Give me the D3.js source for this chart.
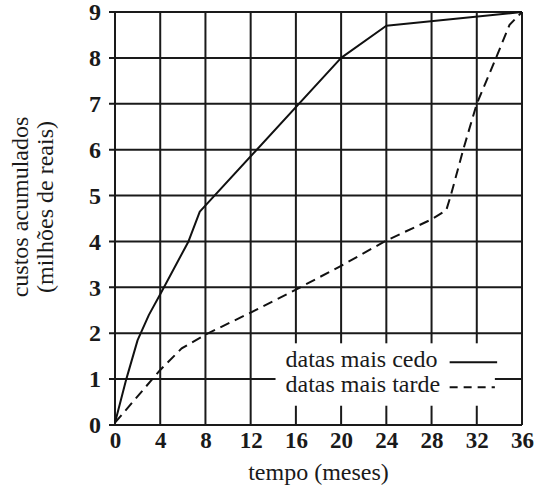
<!DOCTYPE html>
<html>
<head>
<meta charset="utf-8">
<script src="https://cdn.jsdelivr.net/npm/d3@7"></script>
<style>
  body { margin: 0; background: #fff; }
  text, tspan { font-family: "Liberation Serif", "Times New Roman", Tinos, Times !important; }
</style>
</head>
<body>
<div id="chart"></div>
<script>
// ===== dados =====
const xTicks = [0, 4, 8, 12, 16, 20, 24, 28, 32, 36];
const yTicks = [0, 1, 2, 3, 4, 5, 6, 7, 8, 9];

// datas mais cedo (linha contínua)
const mesesCedo = [0, 1, 2, 3, 4, 6.5, 7.5, 20, 24, 36];
const custosCedo = [0.05, 1, 1.85, 2.4, 2.85, 4.0, 4.65, 8, 8.7, 9];

// datas mais tarde (linha tracejada)
const mesesTarde = [0, 4, 5.9, 8, 12, 16, 20, 24, 28, 29.3, 29.7, 30.8, 32, 33.7, 34.9, 36];
const custosTarde = [0.05, 1.2, 1.67, 1.97, 2.45, 2.95, 3.47, 4.02, 4.48, 4.68, 5, 6, 7, 8, 8.72, 9];

const legendLabels = ["datas mais cedo", "datas mais tarde"];

const serif = "Liberation Serif, Times New Roman, Tinos, Times";

(function() {
  const W = 536, H = 486;
  const margin = { top: 12, right: 14, bottom: 61, left: 115 };
  const w = W - margin.left - margin.right;
  const h = H - margin.top - margin.bottom;

  const svg = d3.select("#chart").append("svg")
    .attr("width", W).attr("height", H)
    .attr("font-family", serif);

  const g = svg.append("g").attr("transform", `translate(${margin.left},${margin.top})`);

  const x = d3.scaleLinear().domain([0, 36]).range([0, w]);
  const y = d3.scaleLinear().domain([0, 9]).range([h, 0]);

  const ink = "#1a1a1a";

  // grade
  g.append("g").selectAll("line")
    .data(xTicks)
    .join("line")
    .attr("x1", d => x(d)).attr("x2", d => x(d))
    .attr("y1", 0).attr("y2", h)
    .attr("stroke", ink).attr("stroke-width", 2);

  g.append("g").selectAll("line")
    .data(yTicks)
    .join("line")
    .attr("x1", -6).attr("x2", w)
    .attr("y1", d => y(d)).attr("y2", d => y(d))
    .attr("stroke", ink).attr("stroke-width", 2);

  // eixos (só rótulos)
  const yAxis = g.append("g")
    .call(d3.axisLeft(y).tickValues(yTicks).tickSize(6).tickPadding(8).tickFormat(d3.format("d")))
    .attr("font-family", serif);
  yAxis.select(".domain").remove();
  yAxis.selectAll("line").remove();
  yAxis.selectAll("text")
    .attr("font-size", 24).attr("font-weight", "bold").attr("fill", ink);

  const xAxis = g.append("g").attr("transform", `translate(0,${h})`)
    .call(d3.axisBottom(x).tickValues(xTicks).tickSize(0).tickPadding(7).tickFormat(d3.format("d")))
    .attr("font-family", serif);
  xAxis.select(".domain").remove();
  xAxis.selectAll("text")
    .attr("font-size", 23).attr("font-weight", "bold").attr("fill", ink);

  // caixa da legenda
  const lx = x(14.2), ly = y(1.78);
  g.append("rect")
    .attr("x", lx).attr("y", ly)
    .attr("width", x(33.6) - lx).attr("height", y(0.42) - ly)
    .attr("fill", "#fff");

  // linhas
  const line = d3.line().x(d => x(d[0])).y(d => y(d[1]));

  g.append("path")
    .datum(d3.zip(mesesCedo, custosCedo))
    .attr("d", line)
    .attr("fill", "none").attr("stroke", "#111").attr("stroke-width", 2)
    .attr("stroke-linejoin", "round");

  g.append("path")
    .datum(d3.zip(mesesTarde, custosTarde))
    .attr("d", line)
    .attr("fill", "none").attr("stroke", "#111").attr("stroke-width", 2)
    .attr("stroke-dasharray", "10,6");

  // legenda
  const leg = g.selectAll("g.leg")
    .data(legendLabels)
    .join("g")
    .attr("class", "leg")
    .attr("transform", (d, i) => `translate(0,${ly + 24 + i * 25})`);

  leg.append("text")
    .attr("x", lx + 10)
    .text(d => d)
    .attr("font-size", 24).attr("fill", ink);

  leg.append("line")
    .attr("x1", x(29.6)).attr("x2", (d, i) => i ? x(33.6) : x(33.8))
    .attr("y1", -5).attr("y2", -5)
    .attr("stroke", "#111").attr("stroke-width", 2)
    .attr("stroke-dasharray", (d, i) => i ? "8,6" : null);

  // títulos
  svg.append("text")
    .attr("x", margin.left + w / 2).attr("y", 480)
    .attr("text-anchor", "middle")
    .attr("font-size", 24).attr("fill", ink)
    .text("tempo (meses)");

  const yt = svg.append("text")
    .attr("transform", "translate(0,207) rotate(-90)")
    .attr("text-anchor", "middle")
    .attr("font-size", 24).attr("fill", ink);
  yt.append("tspan").attr("x", 0).attr("y", 28).text("custos acumulados");
  yt.append("tspan").attr("x", 0).attr("y", 53).text("(milhões de reais)");
})();
</script>
</body>
</html>
